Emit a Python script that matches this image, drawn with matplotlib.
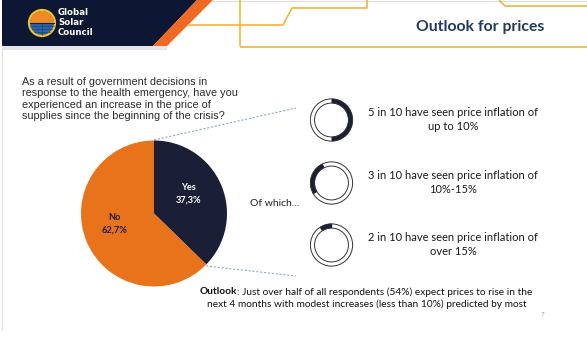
import matplotlib
matplotlib.use("Agg")
import matplotlib.pyplot as plt
from matplotlib.patches import Polygon, Circle, Wedge, Rectangle
import numpy as np

# -------------------------------------------------
# DATA
# -------------------------------------------------
pie_labels = ["Yes", "No"]
pie_values = [37.3, 62.7]
pie_colors = ["#1b1f36", "#e8731a"]

ring_counts = [5, 3, 2]                  # "x in 10"
ring_fill = [0.50, 0.27, 0.10]           # filled share of each ring as drawn
ring_start = [90, 212, 124]              # where the filled arc starts (deg)
ring_text = [
    "5 in 10 have seen price inflation of\nup to 10%",
    "3 in 10 have seen price inflation of\n10%-15%",
    "2 in 10 have seen price inflation of\nover 15%",
]

question = ("As a result of government decisions in\n"
            "response to the health emergency, have you\n"
            "experienced an increase in the price of\n"
            "supplies since the beginning of the crisis?")
outlook_rest = ": Just over half of all respondents (54%) expect prices to rise in the"
outlook_line2 = "next 4 months with modest increases (less than 10%) predicted by most"

NAVY = "#0b1733"
GOLD = "#f4b43a"
W, H = 587, 352
SANS = "Lato"

fig = plt.figure(figsize=(W / 100, H / 100), dpi=100)
bg = fig.add_axes([0, 0, 1, 1])
bg.set_xlim(0, W)
bg.set_ylim(H, 0)
bg.axis("off")


def px_axes(cx, cy, r):
    """axes square centred on pixel (cx, cy) with half-size r"""
    return fig.add_axes([(cx - r) / W, (H - cy - r) / H, 2 * r / W, 2 * r / H])


# ---------------- header ----------------
bg.add_patch(Rectangle((2, 46), 165, 4, color="#b8b3cc", alpha=0.35, lw=0))
bg.add_patch(Polygon([(2, 0), (197, 0), (153, 46), (2, 46)], closed=True, color=NAVY, lw=0))
bg.add_patch(Polygon([(197, 0), (213, 0), (167, 46), (153, 46)], closed=True, color="#f26a21", lw=0))
bg.plot([213, W], [0.8, 0.8], color="#dddddd", lw=0.8)
bg.plot([2, 2], [46, 330], color="#e3e3e3", lw=1)

gold_lines = [
    ([240, 240], [0, 46]),
    ([188, 283, 292, 367, 367], [25, 25, 8, 8, 0]),
    ([499, 505, W], [0, 6, 6]),
    ([240, W], [46.5, 46.5]),
]
for xs, ys in gold_lines:
    bg.plot(xs, ys, color=GOLD, lw=1.2, solid_capstyle="butt")

# logo (y axis is flipped, so 180-360 is the top half here)
bg.add_patch(Wedge((42, 23), 12, 180, 360, color="#f08a24", lw=0))
bg.add_patch(Wedge((42, 23), 12, 0, 180, color="#2a64a8", lw=0))
for yy in [26, 29, 32]:
    half = np.sqrt(max(144 - (yy - 23) ** 2, 0))
    bg.plot([42 - half, 42 + half], [yy, yy], color="#1b3a66", lw=0.4)
bg.plot([42, 42], [23, 35], color="#1b3a66", lw=0.4)
bg.add_patch(Circle((42, 23), 13, fill=False, ec="#f2c230", lw=1.6))
bg.plot([30, 54], [23, 23], color="#10203d", lw=0.8)
bg.text(58, 22.5, "Global\nSolar\nCouncil", color="white", fontsize=6.2, fontweight="bold",
        family="DejaVu Sans", va="center", ha="left", linespacing=1.15)

bg.text(480, 27, "Outlook for prices", color="#1f3864", fontsize=11.3, fontweight="bold",
        family=SANS, ha="center", va="center")

# ---------------- question ----------------
bg.text(22, 99, question, color="#2a2a2a", fontsize=7.8, family="Liberation Sans",
        ha="left", va="center", linespacing=1.13)

# ---------------- pie ----------------
pax = px_axes(154, 213.5, 73)
wedges, _ = pax.pie(pie_values, colors=pie_colors, startangle=90, counterclock=False,
                    wedgeprops=dict(lw=0))
pax.set_xlim(-1, 1)
pax.set_ylim(-1, 1)
for w, lab, val, col in zip(wedges, pie_labels, pie_values, ["white", "#1b1f36"]):
    mid = np.deg2rad((w.theta1 + w.theta2) / 2)
    txt = f"{lab}\n{val:.1f}%".replace(".", ",")
    pax.text(0.55 * np.cos(mid) - 0.04, 0.53 * np.sin(mid) + 0.06, txt, color=col,
             fontsize=6.7, fontweight="bold", family=SANS, ha="center", va="center",
             linespacing=1.5)

# connector lines
dot = dict(color="#8fa8d8", lw=0.8, ls=(0, (2, 1.5)))
bg.plot([154, 296], [140, 108], **dot)
bg.plot([206, 296], [266, 276], **dot)

bg.text(250, 203, "Of which...", color="#222222", fontsize=7.5, family=SANS,
        ha="left", va="center")

# ---------------- rings ----------------
ring_y = [120, 183, 245]
for cy, frac, st, txt in zip(ring_y, ring_fill, ring_start, ring_text):
    rax = px_axes(331.5, cy, 22)
    rax.pie([frac, 1 - frac], colors=["#1b1f36", "none"], startangle=st, counterclock=False,
            radius=0.97, wedgeprops=dict(width=0.21, lw=0))
    rax.add_patch(Circle((0, 0), 0.96, fill=False, ec="#333333", lw=0.7))
    rax.add_patch(Circle((0, 0), 0.77, fill=False, ec="#333333", lw=0.7))
    rax.set_xlim(-1, 1)
    rax.set_ylim(-1, 1)
    bg.text(453, cy - 0.5, txt, color="#1a1a1a", fontsize=8, family=SANS,
            ha="center", va="center", linespacing=1.35)

# ---------------- outlook ----------------
fig.canvas.draw()
rend = fig.canvas.get_renderer()
t_bold = bg.text(0, 292, "Outlook", fontsize=7.3, fontweight="bold", family=SANS,
                 color="#111111", ha="left", va="center")
t_rest = bg.text(0, 292, outlook_rest, fontsize=7.3, family=SANS, color="#111111",
                 ha="left", va="center")
wb = t_bold.get_window_extent(rend).width
wr = t_rest.get_window_extent(rend).width
x0 = 366 - (wb + wr) / 2
t_bold.set_x(x0)
t_rest.set_x(x0 + wb)
bg.text(367, 304, outlook_line2, fontsize=7.3, family=SANS, color="#111111",
        ha="center", va="center")

bg.text(542, 315, "7", fontsize=4.5, color="#999999", family=SANS, ha="center", va="center")

fig.savefig("out.png", dpi=100)
